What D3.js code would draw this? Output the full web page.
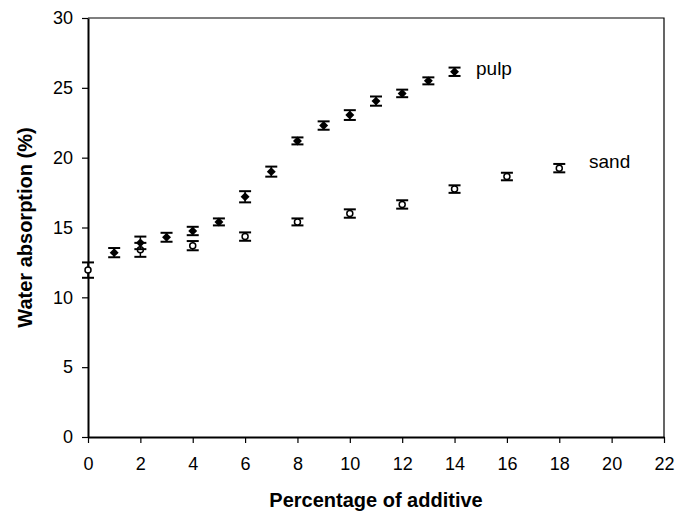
<!DOCTYPE html>
<html>
<head>
<meta charset="utf-8">
<script src="https://cdn.jsdelivr.net/npm/d3@7"></script>
<style>
 body { margin: 0; background: #fff; }
 text { font-family: Arial, "Liberation Sans", sans-serif; }
</style>
</head>
<body>
<div id="chart"></div>
<script>
const pulpX = [1, 2, 3, 4, 5, 6, 7, 8, 9, 10, 11, 12, 13, 14];
const pulpY = [13.2, 13.9, 14.3, 14.75, 15.4, 17.2, 19.0, 21.2, 22.3, 23.05, 24.05, 24.6, 25.5, 26.15];
const pulpErr = [0.33, 0.45, 0.32, 0.3, 0.25, 0.4, 0.36, 0.25, 0.3, 0.35, 0.33, 0.27, 0.25, 0.3];

const sandX = [0, 2, 4, 6, 8, 10, 12, 14, 16, 18];
const sandY = [11.95, 13.4, 13.7, 14.35, 15.4, 16.0, 16.65, 17.75, 18.65, 19.25];
const sandErr = [0.55, 0.5, 0.33, 0.3, 0.25, 0.3, 0.3, 0.27, 0.27, 0.3];

const xTicks = [0, 2, 4, 6, 8, 10, 12, 14, 16, 18, 20, 22];
const yTicks = [0, 5, 10, 15, 20, 25, 30];

const width = 677, height = 512;
const margin = { top: 18, right: 13, bottom: 75, left: 88 };

const svg = d3.select("#chart")
 .append("svg")
 .attr("width", width)
 .attr("height", height);

const x = d3.scaleLinear().domain([0, 22]).range([margin.left, width - margin.right]);
const y = d3.scaleLinear().domain([0, 30]).range([height - margin.bottom, margin.top]);

// frame (top & right)
svg.append("path")
 .attr("d", `M${x(0)},${y(30)}H${x(22)}V${y(0)}`)
 .attr("fill", "none")
 .attr("stroke", "#000")
 .attr("stroke-width", 1.2);

const xAxis = svg.append("g")
 .attr("transform", `translate(0,${y(0)})`)
 .call(d3.axisBottom(x).tickValues(xTicks).tickSize(6).tickPadding(14).tickSizeOuter(0));
const yAxis = svg.append("g")
 .attr("transform", `translate(${x(0)},0)`)
 .call(d3.axisLeft(y).tickValues(yTicks).tickSize(6).tickPadding(9).tickSizeOuter(0));

[xAxis, yAxis].forEach(g => {
 g.select(".domain").attr("stroke", "#000").attr("stroke-width", 2);
 g.selectAll(".tick line").attr("stroke", "#000").attr("stroke-width", 1.2);
 g.selectAll(".tick text")
  .attr("fill", "#000")
  .style("font-size", "18px")
  .style("font-family", "Arial, 'Liberation Sans', sans-serif");
});

svg.append("text")
 .attr("x", (x(0) + x(22)) / 2)
 .attr("y", 507)
 .attr("text-anchor", "middle")
 .style("font-size", "20px")
 .style("font-weight", "bold")
 .text("Percentage of additive");

svg.append("text")
 .attr("transform", `translate(32,${(y(0) + y(30)) / 2}) rotate(-90)`)
 .attr("text-anchor", "middle")
 .style("font-size", "20px")
 .style("font-weight", "bold")
 .text("Water absorption (%)");

const drawSeries = (xs, ys, errs, kind) => {
 const data = xs.map((v, i) => ({ x: v, y: ys[i], e: errs[i] }));
 const g = svg.append("g");
 const bars = g.selectAll(".err").data(data).enter().append("g");
 bars.append("line")
  .attr("x1", d => x(d.x)).attr("x2", d => x(d.x))
  .attr("y1", d => y(d.y - d.e)).attr("y2", d => y(d.y + d.e))
  .attr("stroke", "#000").attr("stroke-width", 1.5);
 [-1, 1].forEach(s => {
  bars.append("line")
   .attr("x1", d => x(d.x) - 6).attr("x2", d => x(d.x) + 6)
   .attr("y1", d => y(d.y + s * d.e)).attr("y2", d => y(d.y + s * d.e))
   .attr("stroke", "#000").attr("stroke-width", 2);
 });
 if (kind === "diamond") {
  g.selectAll(".pt").data(data).enter().append("path")
   .attr("d", d3.symbol(d3.symbolSquare).size(40))
   .attr("transform", d => `translate(${x(d.x)},${y(d.y)}) rotate(45)`)
   .attr("fill", "#000");
 } else {
  g.selectAll(".pt").data(data).enter().append("circle")
   .attr("cx", d => x(d.x)).attr("cy", d => y(d.y))
   .attr("r", 3)
   .attr("fill", "#fff")
   .attr("stroke", "#000")
   .attr("stroke-width", 1.5);
 }
};

drawSeries(sandX, sandY, sandErr, "circle");
drawSeries(pulpX, pulpY, pulpErr, "diamond");

svg.append("text")
 .attr("x", 476).attr("y", 75)
 .style("font-size", "19px")
 .text("pulp");
svg.append("text")
 .attr("x", 589).attr("y", 168)
 .style("font-size", "19px")
 .text("sand");
</script>
</body>
</html>
